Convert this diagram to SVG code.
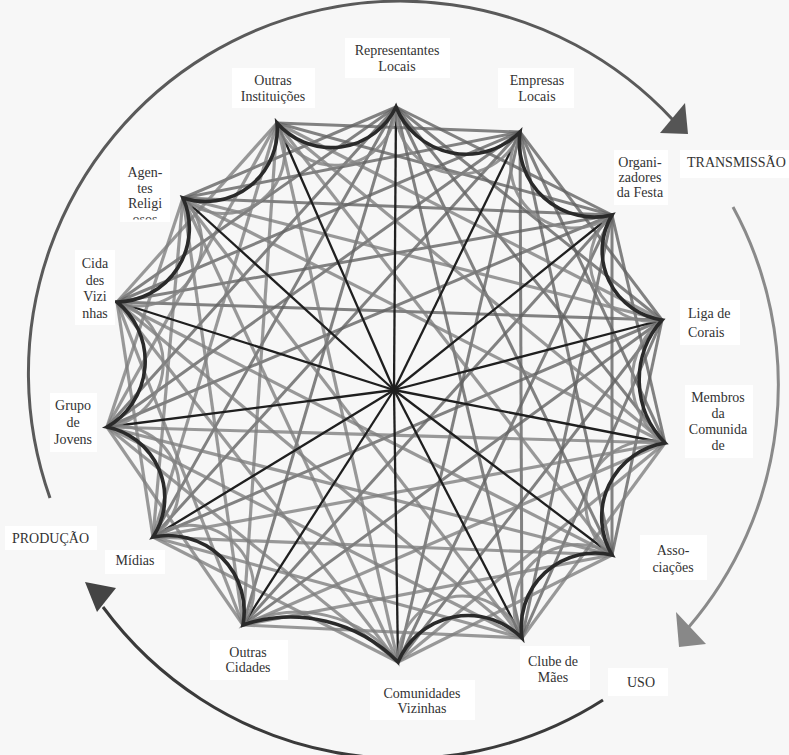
<svg xmlns="http://www.w3.org/2000/svg" width="789" height="755" viewBox="0 0 789 755">
<defs>
<style>
.bg{fill:#f7f7f7}
.box{fill:#ffffff}
text{font-family:"Liberation Serif","DejaVu Serif","Times New Roman",serif;font-size:14px;fill:#333}
.t{text-anchor:middle}
.ch{stroke:#636363;stroke-width:3;stroke-opacity:0.8;fill:none}
.ch2{stroke:#7e7e7e;stroke-width:3.2;stroke-opacity:0.78;fill:none}
.sp{stroke:#1f1f1f;stroke-width:2.3;fill:none}
.edge{fill:none;stroke:#2a2a2a;stroke-width:3.6;stroke-linejoin:miter}
.edge2{fill:none;stroke:#858585;stroke-width:3;stroke-opacity:0.85}
</style>
<clipPath id="cut"><rect x="110" y="150" width="80" height="69.5"/></clipPath>
</defs>
<rect class="bg" x="0" y="0" width="789" height="755"/>

<g id="cycle">
<path d="M50,498 A372,372 0 0 1 673,120" fill="none" stroke="#5a5a5a" stroke-width="3"/>
<polygon points="660,133 685,103 688,134" fill="#555"/>
<path d="M733,207 A372,372 0 0 1 688,628" fill="none" stroke="#8a8a8a" stroke-width="3"/>
<polygon points="676,612 679,647 706,644" fill="#888"/>
<path d="M603,700 A372,372 0 0 1 103,607" fill="none" stroke="#3a3a3a" stroke-width="3"/>
<polygon points="85,582 116,588 97,612" fill="#444"/>
</g>

<g id="connectors">
<g class="ch">
<line x1="396" y1="107" x2="612" y2="215"/>
<line x1="396" y1="107" x2="662" y2="320"/>
<line x1="396" y1="107" x2="665" y2="443"/>
<line x1="396" y1="107" x2="612" y2="555"/>
<line x1="396" y1="107" x2="522" y2="638"/>
<line x1="396" y1="107" x2="243" y2="625"/>
<line x1="396" y1="107" x2="153" y2="537"/>
<line x1="396" y1="107" x2="107" y2="427"/>
<line x1="396" y1="107" x2="117" y2="302"/>
<line x1="396" y1="107" x2="183" y2="198"/>
<line x1="520" y1="132" x2="662" y2="320"/>
<line x1="520" y1="132" x2="665" y2="443"/>
<line x1="520" y1="132" x2="612" y2="555"/>
<line x1="520" y1="132" x2="522" y2="638"/>
<line x1="520" y1="132" x2="398" y2="662"/>
<line x1="520" y1="132" x2="153" y2="537"/>
<line x1="520" y1="132" x2="107" y2="427"/>
<line x1="520" y1="132" x2="117" y2="302"/>
<line x1="520" y1="132" x2="183" y2="198"/>
<line x1="520" y1="132" x2="277" y2="123"/>
<line x1="612" y1="215" x2="665" y2="443"/>
<line x1="612" y1="215" x2="612" y2="555"/>
<line x1="612" y1="215" x2="522" y2="638"/>
<line x1="612" y1="215" x2="398" y2="662"/>
<line x1="612" y1="215" x2="243" y2="625"/>
<line x1="612" y1="215" x2="107" y2="427"/>
<line x1="612" y1="215" x2="117" y2="302"/>
<line x1="612" y1="215" x2="183" y2="198"/>
<line x1="612" y1="215" x2="277" y2="123"/>
<line x1="662" y1="320" x2="612" y2="555"/>
<line x1="662" y1="320" x2="522" y2="638"/>
<line x1="662" y1="320" x2="398" y2="662"/>
<line x1="662" y1="320" x2="243" y2="625"/>
<line x1="662" y1="320" x2="153" y2="537"/>
<line x1="662" y1="320" x2="117" y2="302"/>
</g>
<g class="ch2">
<line x1="662" y1="320" x2="183" y2="198"/>
<line x1="662" y1="320" x2="277" y2="123"/>
<line x1="665" y1="443" x2="522" y2="638"/>
<line x1="665" y1="443" x2="398" y2="662"/>
<line x1="665" y1="443" x2="243" y2="625"/>
<line x1="665" y1="443" x2="153" y2="537"/>
<line x1="665" y1="443" x2="107" y2="427"/>
<line x1="665" y1="443" x2="183" y2="198"/>
<line x1="665" y1="443" x2="277" y2="123"/>
<line x1="612" y1="555" x2="398" y2="662"/>
<line x1="612" y1="555" x2="243" y2="625"/>
<line x1="612" y1="555" x2="153" y2="537"/>
<line x1="612" y1="555" x2="107" y2="427"/>
<line x1="612" y1="555" x2="117" y2="302"/>
<line x1="612" y1="555" x2="277" y2="123"/>
<line x1="522" y1="638" x2="243" y2="625"/>
<line x1="522" y1="638" x2="153" y2="537"/>
<line x1="522" y1="638" x2="107" y2="427"/>
<line x1="522" y1="638" x2="117" y2="302"/>
<line x1="522" y1="638" x2="183" y2="198"/>
<line x1="398" y1="662" x2="153" y2="537"/>
<line x1="398" y1="662" x2="107" y2="427"/>
<line x1="398" y1="662" x2="117" y2="302"/>
<line x1="398" y1="662" x2="183" y2="198"/>
<line x1="398" y1="662" x2="277" y2="123"/>
<line x1="243" y1="625" x2="107" y2="427"/>
<line x1="243" y1="625" x2="117" y2="302"/>
<line x1="243" y1="625" x2="183" y2="198"/>
<line x1="243" y1="625" x2="277" y2="123"/>
<line x1="153" y1="537" x2="117" y2="302"/>
<line x1="153" y1="537" x2="183" y2="198"/>
<line x1="153" y1="537" x2="277" y2="123"/>
<line x1="107" y1="427" x2="183" y2="198"/>
<line x1="107" y1="427" x2="277" y2="123"/>
<line x1="117" y1="302" x2="277" y2="123"/>
</g>
<g class="sp">
<line x1="394" y1="390" x2="396" y2="107"/>
<line x1="394" y1="390" x2="520" y2="132"/>
<line x1="394" y1="390" x2="612" y2="215"/>
<line x1="394" y1="390" x2="662" y2="320"/>
<line x1="394" y1="390" x2="665" y2="443"/>
<line x1="394" y1="390" x2="612" y2="555"/>
<line x1="394" y1="390" x2="522" y2="638"/>
<line x1="394" y1="390" x2="398" y2="662"/>
<line x1="394" y1="390" x2="243" y2="625"/>
<line x1="394" y1="390" x2="153" y2="537"/>
<line x1="394" y1="390" x2="107" y2="427"/>
<line x1="394" y1="390" x2="117" y2="302"/>
<line x1="394" y1="390" x2="183" y2="198"/>
<line x1="394" y1="390" x2="277" y2="123"/>
</g>
<path class="edge2" d="M396,107 A64,64 0 0 0 520,132 A63,63 0 0 0 612,215 A60,60 0 0 0 662,320 A76,76 0 0 0 665,443 A63,63 0 0 0 612,555 A63,63 0 0 0 522,638 A64,64 0 0 0 398,662 A125,125 0 0 0 243,625 A64,64 0 0 0 153,537 A61,61 0 0 0 107,427 A64,64 0 0 0 117,302 A63,63 0 0 0 183,198 A61,61 0 0 0 277,123 A61,61 0 0 0 396,107"/>
<path class="edge" d="M396,107 A76,76 0 0 0 520,132 A75,75 0 0 0 612,215 A70,70 0 0 0 662,320 A90,90 0 0 0 665,443 A75,75 0 0 0 612,555 A74,74 0 0 0 522,638 A76,76 0 0 0 398,662 A150,150 0 0 0 243,625 A76,76 0 0 0 153,537 A72,72 0 0 0 107,427 A76,76 0 0 0 117,302 A74,74 0 0 0 183,198 A72,72 0 0 0 277,123 A72,72 0 0 0 396,107 Z"/>
</g>

<g id="n-representantes" font-family="Liberation Serif, DejaVu Serif, serif"><rect class="box" x="345" y="38" width="105" height="40"/><text class="t" x="397" y="55">Representantes</text><text class="t" x="397" y="71">Locais</text></g>
<g id="n-empresas" font-family="Liberation Serif, DejaVu Serif, serif"><rect class="box" x="498" y="68" width="76" height="40"/><text class="t" x="537" y="85">Empresas</text><text class="t" x="537" y="101">Locais</text></g>
<g id="n-organizadores" font-family="Liberation Serif, DejaVu Serif, serif"><rect class="box" x="614" y="150" width="54" height="55"/><text class="t" x="640" y="167">Organi-</text><text class="t" x="640" y="182">zadores</text><text class="t" x="640" y="197">da Festa</text></g>
<g id="n-liga" font-family="Liberation Serif, DejaVu Serif, serif"><rect class="box" x="680" y="300" width="60" height="45"/><text x="688" y="318">Liga de</text><text x="688" y="337">Corais</text></g>
<g id="n-membros" font-family="Liberation Serif, DejaVu Serif, serif"><rect class="box" x="685" y="385" width="68" height="73"/><text class="t" x="718" y="402">Membros</text><text class="t" x="718" y="418">da</text><text class="t" x="718" y="434">Comunida</text><text class="t" x="718" y="450">de</text></g>
<g id="n-associacoes" font-family="Liberation Serif, DejaVu Serif, serif"><rect class="box" x="640" y="535" width="67" height="45"/><text class="t" x="673" y="555">Asso-</text><text class="t" x="673" y="572">ciações</text></g>
<g id="n-clube" font-family="Liberation Serif, DejaVu Serif, serif"><rect class="box" x="520" y="646" width="70" height="44"/><text class="t" x="553" y="666">Clube de</text><text class="t" x="553" y="682">Mães</text></g>
<g id="n-comunidades" font-family="Liberation Serif, DejaVu Serif, serif"><rect class="box" x="370" y="680" width="105" height="40"/><text class="t" x="422" y="698">Comunidades</text><text class="t" x="422" y="713">Vizinhas</text></g>
<g id="n-outras-cidades" font-family="Liberation Serif, DejaVu Serif, serif"><rect class="box" x="210" y="640" width="78" height="40"/><text class="t" x="248" y="657">Outras</text><text class="t" x="248" y="672">Cidades</text></g>
<g id="n-midias" font-family="Liberation Serif, DejaVu Serif, serif"><rect class="box" x="105" y="550" width="60" height="24"/><text class="t" x="135" y="565">Mídias</text></g>
<g id="n-grupo" font-family="Liberation Serif, DejaVu Serif, serif"><rect class="box" x="50" y="393" width="47" height="59"/><text class="t" x="73" y="410">Grupo</text><text class="t" x="73" y="427">de</text><text class="t" x="73" y="444">Jovens</text></g>
<g id="n-cidades-vizinhas" font-family="Liberation Serif, DejaVu Serif, serif"><rect class="box" x="75" y="250" width="40" height="75"/><text class="t" x="95" y="268">Cida</text><text class="t" x="95" y="285">des</text><text class="t" x="95" y="301">Vizi</text><text class="t" x="95" y="318">nhas</text></g>
<g id="n-agentes" font-family="Liberation Serif, DejaVu Serif, serif"><rect class="box" x="120" y="160" width="50" height="62"/><text class="t" x="145" y="177">Agen-</text><text class="t" x="145" y="193">tes</text><text class="t" x="145" y="208">Religi</text><text class="t" x="145" y="224" clip-path="url(#cut)">osos</text></g>
<g id="n-outras-instituicoes" font-family="Liberation Serif, DejaVu Serif, serif"><rect class="box" x="232" y="68" width="83" height="40"/><text class="t" x="273" y="85">Outras</text><text class="t" x="273" y="101">Instituições</text></g>

<g id="stages" font-family="Liberation Serif, DejaVu Serif, serif">
<rect class="box" x="680" y="150" width="109" height="28"/><text x="687" y="167">TRANSMISSÃO</text>
<rect class="box" x="608" y="668" width="60" height="28"/><text x="627" y="687">USO</text>
<rect class="box" x="5" y="526" width="92" height="24"/><text x="12" y="543">PRODUÇÃO</text>
</g>
</svg>
